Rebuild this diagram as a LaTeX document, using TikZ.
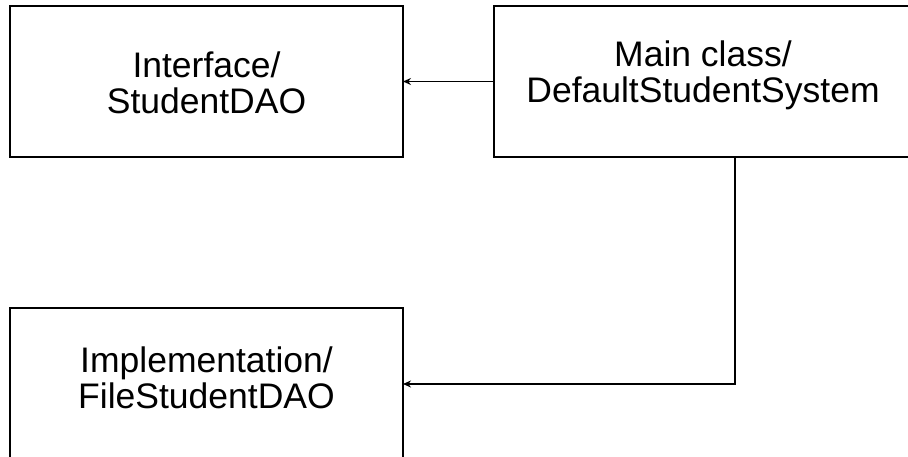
\documentclass[tikz,border=0pt]{standalone}
\usepackage{fontspec}
\setmainfont{Liberation Sans}
\usetikzlibrary{arrows.meta}
\begin{document}
\begin{tikzpicture}[x=1pt,y=-1pt,
  box/.style={draw=black,line width=1.8pt,minimum width=#1,minimum height=151pt,inner sep=0pt,outer sep=0pt},
  label text/.style={align=center,font=\fontsize{35.5}{36}\selectfont,inner sep=0pt},
  link/.style={draw=black,line width=1.5pt,-{Stealth[length=8pt,width=7pt]}}]
  \useasboundingbox (0,0) rectangle (908,457);
  \clip (0,0) rectangle (908,457);
  % the three class boxes
  \node[box=393pt] (dao) at (206.5,81.5) {};
  \node[box=418pt] (main) at (703,81.5) {};
  \node[box=393pt,minimum height=152pt] (impl) at (206.5,384) {};
  % their captions
  \node[label text] (daotext) at (206.5,83) {Interface/\\StudentDAO};
  \node[label text] (maintext) at (703,75.5) {Main class/\\DefaultStudentSystem};
  \node[label text] (impltext) at (206.5,378) {Implementation/\\FileStudentDAO};
  % connectors
  \coordinate (bend) at (735,384);
  \draw[link] (main.west) -- (dao.east);
  \draw[link] (bend |- main.south) |- (impl.east);
\end{tikzpicture}
\end{document}
